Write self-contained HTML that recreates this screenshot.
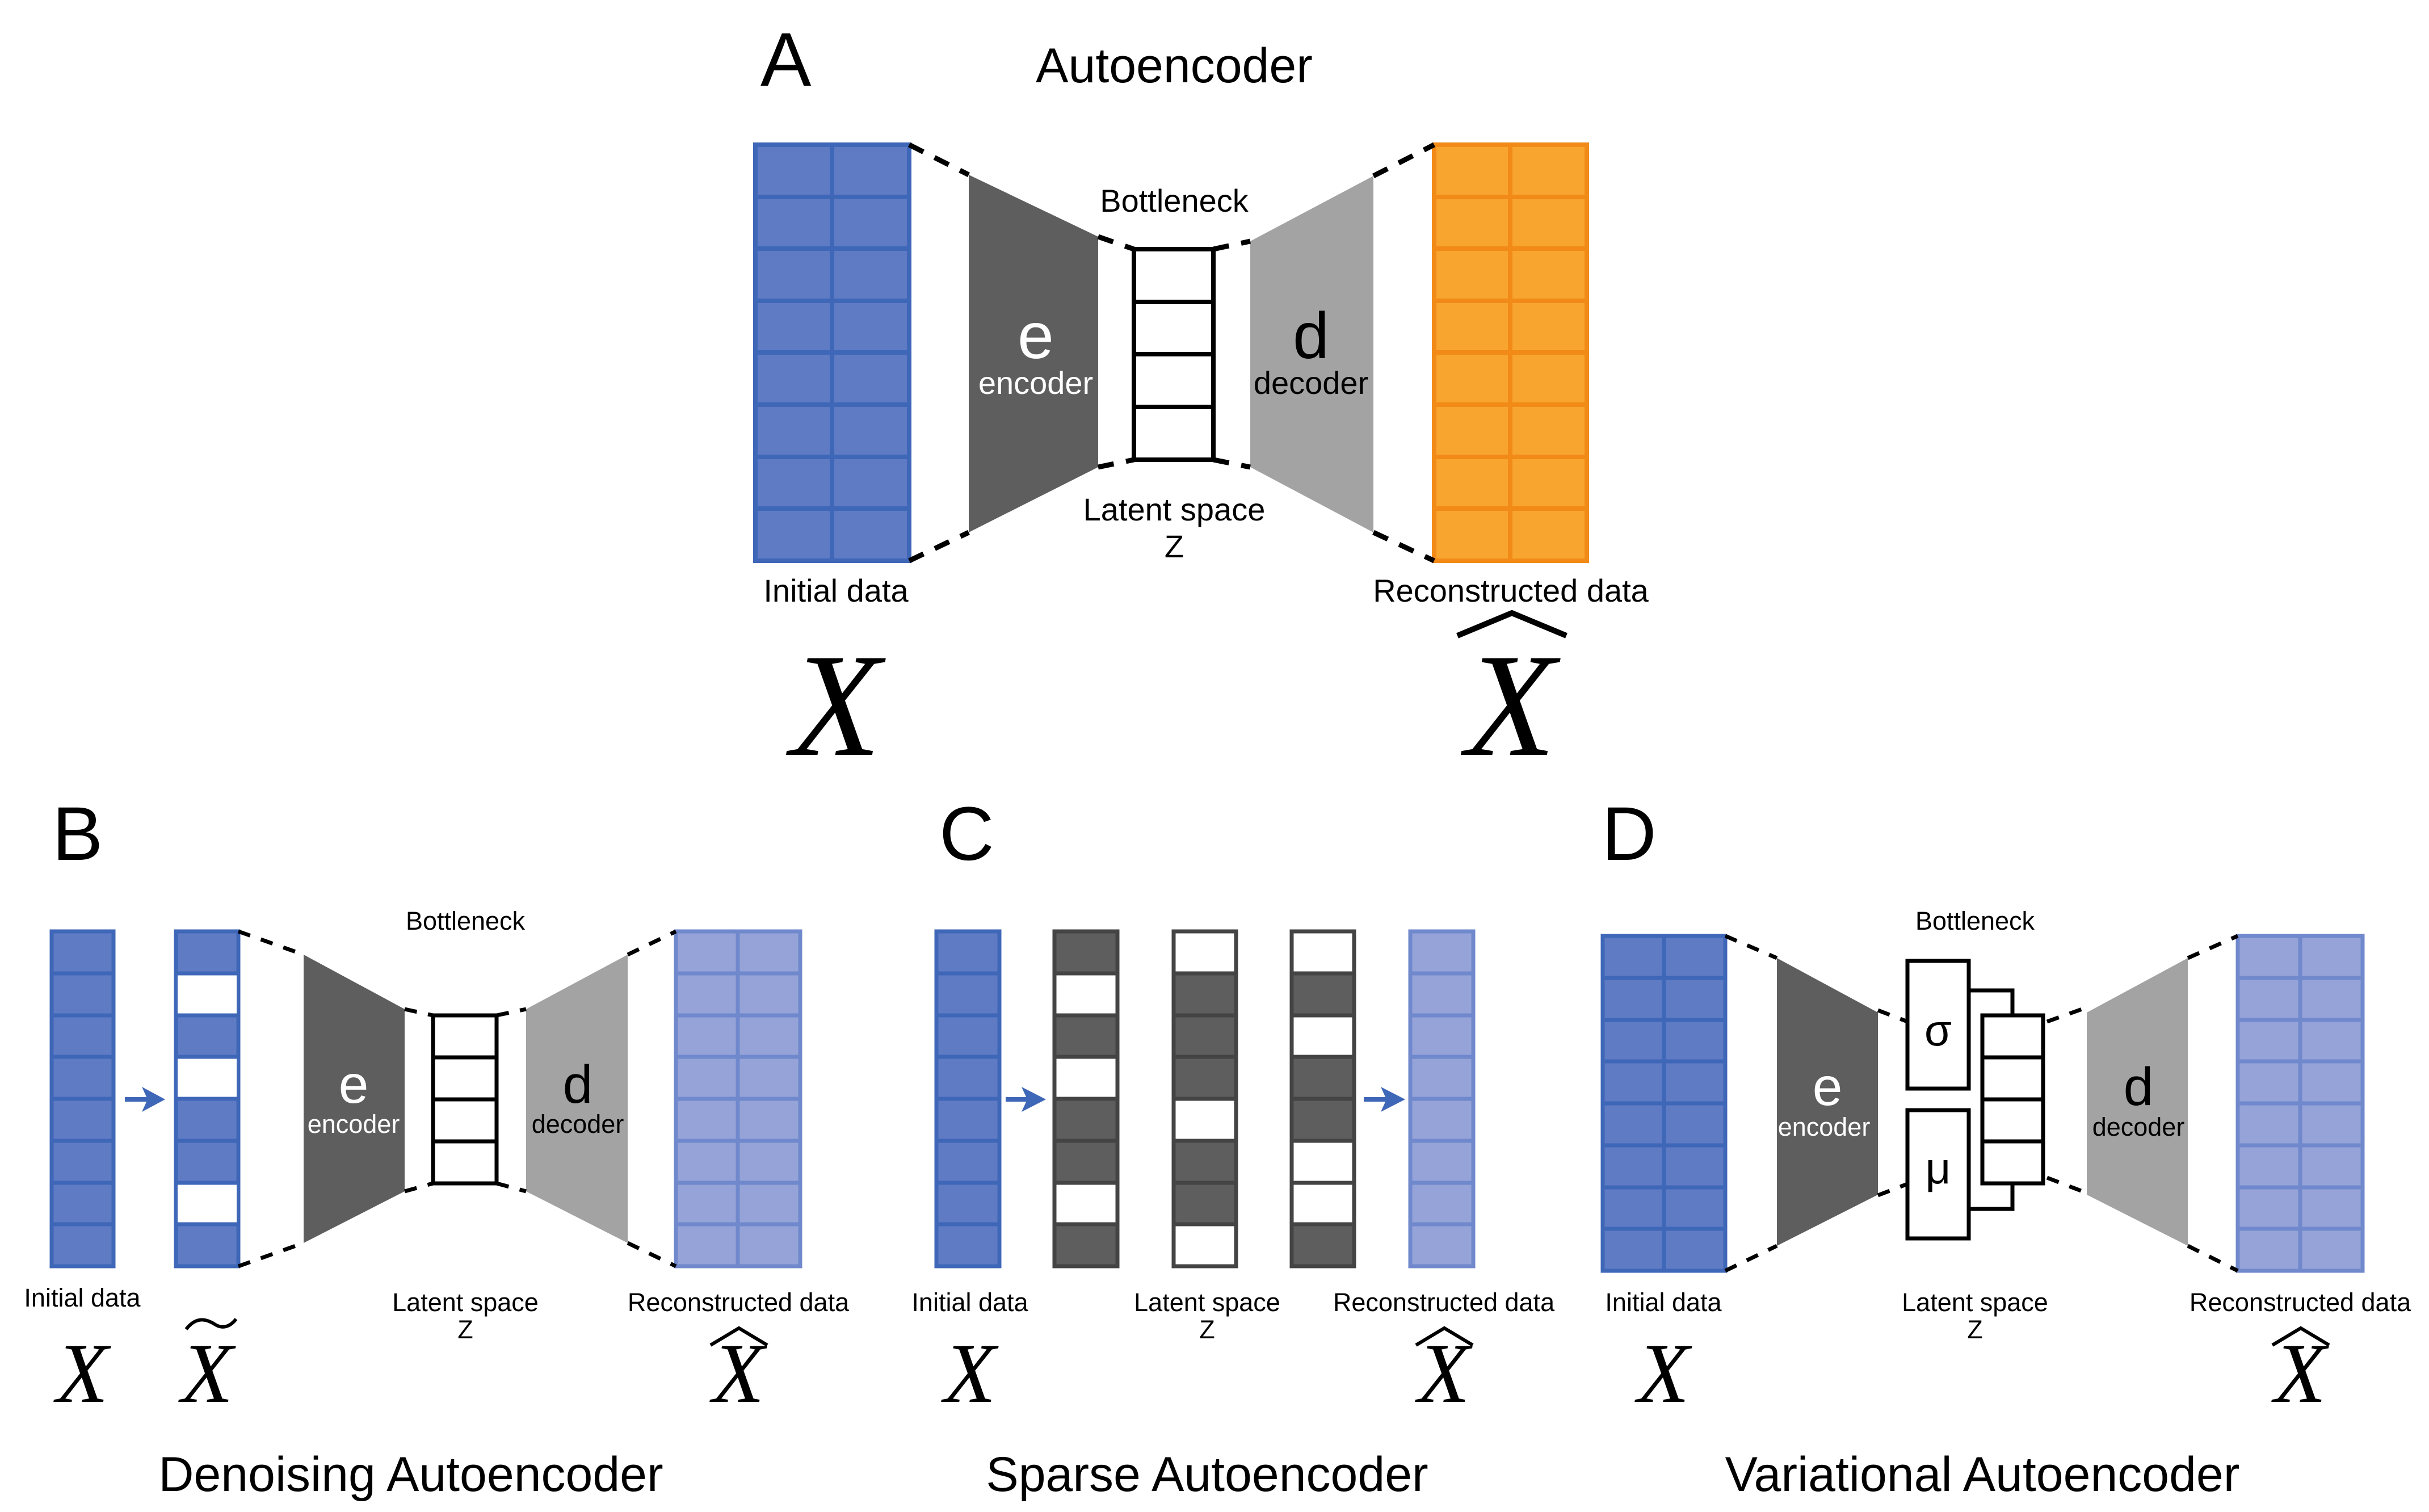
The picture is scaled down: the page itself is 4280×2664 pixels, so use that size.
<!DOCTYPE html>
<html><head><meta charset="utf-8"><style>
html,body{margin:0;padding:0;background:#fff}
svg{display:block}
text{font-family:"Liberation Sans",sans-serif}
.x{font-family:"Liberation Serif",serif;font-style:italic}
</style></head><body>
<svg width="4280" height="2664" viewBox="0 0 4280 2664" xmlns="http://www.w3.org/2000/svg">
<!-- ===== Panel A ===== -->
<text x="1340" y="151" font-size="134">A</text>
<text x="2069" y="145" font-size="86" text-anchor="middle">Autoencoder</text>
<g stroke="#3f67b8" stroke-width="8">
<rect x="1331" y="255" width="271" height="733" fill="#5f7bc4"/>
<line x1="1466" y1="255" x2="1466" y2="988"/>
<line x1="1331" y1="347" x2="1602" y2="347"/><line x1="1331" y1="438" x2="1602" y2="438"/>
<line x1="1331" y1="530" x2="1602" y2="530"/><line x1="1331" y1="621" x2="1602" y2="621"/>
<line x1="1331" y1="713" x2="1602" y2="713"/><line x1="1331" y1="805" x2="1602" y2="805"/>
<line x1="1331" y1="896" x2="1602" y2="896"/>
</g>
<g stroke="#f28a17" stroke-width="8">
<rect x="2527" y="255" width="269" height="733" fill="#f8a530"/>
<line x1="2661" y1="255" x2="2661" y2="988"/>
<line x1="2527" y1="347" x2="2796" y2="347"/><line x1="2527" y1="438" x2="2796" y2="438"/>
<line x1="2527" y1="530" x2="2796" y2="530"/><line x1="2527" y1="621" x2="2796" y2="621"/>
<line x1="2527" y1="713" x2="2796" y2="713"/><line x1="2527" y1="805" x2="2796" y2="805"/>
<line x1="2527" y1="896" x2="2796" y2="896"/>
</g>
<polygon points="1707,308 1935,417 1935,823 1707,938" fill="#5e5e5e"/>
<polygon points="2203,425 2420,310 2420,938 2203,823" fill="#a3a3a3"/>
<g stroke="#000" stroke-width="8" fill="#fff">
<rect x="1998" y="439" width="140" height="371"/>
<line x1="1998" y1="532" x2="2138" y2="532"/><line x1="1998" y1="624" x2="2138" y2="624"/><line x1="1998" y1="717" x2="2138" y2="717"/>
</g>
<g stroke="#000" stroke-width="9" stroke-dasharray="28 22">
<line x1="1602" y1="255" x2="1707" y2="308"/><line x1="1935" y1="417" x2="1998" y2="439"/>
<line x1="1602" y1="988" x2="1707" y2="938"/><line x1="1935" y1="823" x2="1998" y2="810"/>
<line x1="2138" y1="439" x2="2203" y2="425"/><line x1="2420" y1="310" x2="2527" y2="255"/>
<line x1="2138" y1="810" x2="2203" y2="823"/><line x1="2420" y1="938" x2="2527" y2="988"/>
</g>
<text x="1825" y="631" font-size="115" fill="#fff" text-anchor="middle">e</text>
<text x="1825" y="694" font-size="56" fill="#fff" text-anchor="middle">encoder</text>
<text x="2310" y="631" font-size="115" text-anchor="middle">d</text>
<text x="2310" y="694" font-size="56" text-anchor="middle">decoder</text>
<text x="2069" y="373" font-size="56" text-anchor="middle">Bottleneck</text>
<text x="2069" y="917" font-size="56" text-anchor="middle">Latent space</text>
<text x="2069" y="982" font-size="56" text-anchor="middle">Z</text>
<text x="1473" y="1060" font-size="56" text-anchor="middle">Initial data</text>
<text x="2662" y="1060" font-size="56" text-anchor="middle">Reconstructed data</text>
<text class="x" x="1473" y="1330" font-size="260" text-anchor="middle">X</text>
<text class="x" x="2662" y="1330" font-size="260" text-anchor="middle">X</text>
<polyline points="2568,1120 2664,1080 2760,1120" fill="none" stroke="#000" stroke-width="10"/>

<!-- ===== Panel B ===== -->
<text x="92" y="1515" font-size="134">B</text>
<g stroke="#3f67b8" stroke-width="7">
<rect x="91" y="1641" width="109" height="590" fill="#5f7bc4"/>
<line x1="91" y1="1715" x2="200" y2="1715"/><line x1="91" y1="1789" x2="200" y2="1789"/><line x1="91" y1="1862" x2="200" y2="1862"/>
<line x1="91" y1="1936" x2="200" y2="1936"/><line x1="91" y1="2010" x2="200" y2="2010"/><line x1="91" y1="2084" x2="200" y2="2084"/><line x1="91" y1="2157" x2="200" y2="2157"/>
<rect x="310" y="1641" width="110" height="590" fill="#5f7bc4"/>
<rect x="313" y="1715" width="104" height="74" fill="#fff" stroke="none"/>
<rect x="313" y="1862" width="104" height="74" fill="#fff" stroke="none"/>
<rect x="313" y="2084" width="104" height="73" fill="#fff" stroke="none"/>
<line x1="310" y1="1715" x2="420" y2="1715"/><line x1="310" y1="1789" x2="420" y2="1789"/><line x1="310" y1="1862" x2="420" y2="1862"/>
<line x1="310" y1="1936" x2="420" y2="1936"/><line x1="310" y1="2010" x2="420" y2="2010"/><line x1="310" y1="2084" x2="420" y2="2084"/><line x1="310" y1="2157" x2="420" y2="2157"/>
</g>
<g stroke="#7088cc" stroke-width="7">
<rect x="1191" y="1641" width="219" height="590" fill="#95a3d8"/>
<line x1="1300" y1="1641" x2="1300" y2="2231"/>
<line x1="1191" y1="1715" x2="1410" y2="1715"/><line x1="1191" y1="1789" x2="1410" y2="1789"/><line x1="1191" y1="1862" x2="1410" y2="1862"/>
<line x1="1191" y1="1936" x2="1410" y2="1936"/><line x1="1191" y1="2010" x2="1410" y2="2010"/><line x1="1191" y1="2084" x2="1410" y2="2084"/><line x1="1191" y1="2157" x2="1410" y2="2157"/>
</g>
<line x1="220" y1="1937" x2="270" y2="1937" stroke="#3f67b8" stroke-width="8"/>
<polygon points="250,1915 291,1937 250,1959 260,1937" fill="#3f67b8"/>
<polygon points="535,1682 713,1778 713,2099 535,2190" fill="#5e5e5e"/>
<polygon points="927,1778 1106,1682 1106,2190 927,2099" fill="#a3a3a3"/>
<g stroke="#000" stroke-width="7" fill="#fff">
<rect x="763" y="1789" width="112" height="296"/>
<line x1="763" y1="1863" x2="875" y2="1863"/><line x1="763" y1="1937" x2="875" y2="1937"/><line x1="763" y1="2011" x2="875" y2="2011"/>
</g>
<g stroke="#000" stroke-width="7" stroke-dasharray="22 20">
<line x1="420" y1="1641" x2="535" y2="1682"/><line x1="713" y1="1778" x2="763" y2="1789"/>
<line x1="420" y1="2231" x2="535" y2="2190"/><line x1="713" y1="2099" x2="763" y2="2085"/>
<line x1="875" y1="1789" x2="927" y2="1778"/><line x1="1106" y1="1682" x2="1191" y2="1641"/>
<line x1="875" y1="2085" x2="927" y2="2099"/><line x1="1106" y1="2190" x2="1191" y2="2231"/>
</g>
<text x="623" y="1943" font-size="95" fill="#fff" text-anchor="middle">e</text>
<text x="623" y="1996" font-size="45" fill="#fff" text-anchor="middle">encoder</text>
<text x="1018" y="1943" font-size="95" text-anchor="middle">d</text>
<text x="1018" y="1996" font-size="45" text-anchor="middle">decoder</text>
<text x="820" y="1638" font-size="45" text-anchor="middle">Bottleneck</text>
<text x="145" y="2302" font-size="45" text-anchor="middle">Initial data</text>
<text x="820" y="2310" font-size="45" text-anchor="middle">Latent space</text>
<text x="820" y="2358" font-size="45" text-anchor="middle">Z</text>
<text x="1301" y="2310" font-size="45" text-anchor="middle">Reconstructed data</text>
<text class="x" x="145" y="2470" font-size="150" text-anchor="middle">X</text>
<text class="x" x="365" y="2470" font-size="150" text-anchor="middle">X</text>
<path d="M328,2342 C345,2320 362,2323 378,2333 C392,2342 405,2338 416,2324" fill="none" stroke="#000" stroke-width="6"/>
<text class="x" x="1301" y="2470" font-size="150" text-anchor="middle">X</text>
<polyline points="1252,2370 1302,2340 1352,2370" fill="none" stroke="#000" stroke-width="6"/>
<text x="724" y="2627" font-size="86" text-anchor="middle">Denoising Autoencoder</text>

<!-- ===== Panel C ===== -->
<text x="1655" y="1515" font-size="134">C</text>
<g stroke="#3f67b8" stroke-width="7">
<rect x="1650" y="1641" width="111" height="590" fill="#5f7bc4"/>
<line x1="1650" y1="1715" x2="1761" y2="1715"/><line x1="1650" y1="1789" x2="1761" y2="1789"/><line x1="1650" y1="1862" x2="1761" y2="1862"/>
<line x1="1650" y1="1936" x2="1761" y2="1936"/><line x1="1650" y1="2010" x2="1761" y2="2010"/><line x1="1650" y1="2084" x2="1761" y2="2084"/><line x1="1650" y1="2157" x2="1761" y2="2157"/>
</g>
<g stroke="#444" stroke-width="7">
<rect x="1858" y="1641" width="111" height="590" fill="#5e5e5e"/>
<rect x="1858" y="1715" width="111" height="74" fill="#fff"/>
<rect x="1858" y="1862" width="111" height="74" fill="#fff"/>
<rect x="1858" y="2084" width="111" height="73" fill="#fff"/>
<line x1="1858" y1="2010" x2="1969" y2="2010"/>
<rect x="2068" y="1641" width="110" height="590" fill="#5e5e5e"/>
<rect x="2068" y="1641" width="110" height="74" fill="#fff"/>
<rect x="2068" y="1936" width="110" height="74" fill="#fff"/>
<rect x="2068" y="2157" width="110" height="74" fill="#fff"/>
<line x1="2068" y1="1789" x2="2178" y2="1789"/><line x1="2068" y1="1862" x2="2178" y2="1862"/><line x1="2068" y1="2084" x2="2178" y2="2084"/>
<rect x="2276" y="1641" width="110" height="590" fill="#5e5e5e"/>
<rect x="2276" y="1641" width="110" height="74" fill="#fff"/>
<rect x="2276" y="1789" width="110" height="73" fill="#fff"/>
<rect x="2276" y="2010" width="110" height="74" fill="#fff"/>
<rect x="2276" y="2084" width="110" height="73" fill="#fff"/>
<line x1="2276" y1="1936" x2="2386" y2="1936"/>
</g>
<g stroke="#7088cc" stroke-width="7">
<rect x="2485" y="1641" width="111" height="590" fill="#95a3d8"/>
<line x1="2485" y1="1715" x2="2596" y2="1715"/><line x1="2485" y1="1789" x2="2596" y2="1789"/><line x1="2485" y1="1862" x2="2596" y2="1862"/>
<line x1="2485" y1="1936" x2="2596" y2="1936"/><line x1="2485" y1="2010" x2="2596" y2="2010"/><line x1="2485" y1="2084" x2="2596" y2="2084"/><line x1="2485" y1="2157" x2="2596" y2="2157"/>
</g>
<line x1="1772" y1="1937" x2="1820" y2="1937" stroke="#3f67b8" stroke-width="8"/>
<polygon points="1800,1915 1843,1937 1800,1959 1810,1937" fill="#3f67b8"/>
<line x1="2403" y1="1937" x2="2452" y2="1937" stroke="#3f67b8" stroke-width="8"/>
<polygon points="2433,1915 2476,1937 2433,1959 2443,1937" fill="#3f67b8"/>
<text x="1709" y="2310" font-size="45" text-anchor="middle">Initial data</text>
<text x="2127" y="2310" font-size="45" text-anchor="middle">Latent space</text>
<text x="2127" y="2358" font-size="45" text-anchor="middle">Z</text>
<text x="2544" y="2310" font-size="45" text-anchor="middle">Reconstructed data</text>
<text class="x" x="1709" y="2470" font-size="150" text-anchor="middle">X</text>
<text class="x" x="2544" y="2470" font-size="150" text-anchor="middle">X</text>
<polyline points="2495,2370 2545,2340 2595,2370" fill="none" stroke="#000" stroke-width="6"/>
<text x="2127" y="2627" font-size="86" text-anchor="middle">Sparse Autoencoder</text>

<!-- ===== Panel D ===== -->
<text x="2822" y="1515" font-size="134">D</text>
<g stroke="#3f67b8" stroke-width="7">
<rect x="2824" y="1649" width="216" height="590" fill="#5f7bc4"/>
<line x1="2932" y1="1649" x2="2932" y2="2239"/>
<line x1="2824" y1="1723" x2="3040" y2="1723"/><line x1="2824" y1="1797" x2="3040" y2="1797"/><line x1="2824" y1="1870" x2="3040" y2="1870"/>
<line x1="2824" y1="1944" x2="3040" y2="1944"/><line x1="2824" y1="2018" x2="3040" y2="2018"/><line x1="2824" y1="2092" x2="3040" y2="2092"/><line x1="2824" y1="2165" x2="3040" y2="2165"/>
</g>
<g stroke="#7088cc" stroke-width="7">
<rect x="3943" y="1649" width="220" height="590" fill="#95a3d8"/>
<line x1="4053" y1="1649" x2="4053" y2="2239"/>
<line x1="3943" y1="1723" x2="4163" y2="1723"/><line x1="3943" y1="1797" x2="4163" y2="1797"/><line x1="3943" y1="1870" x2="4163" y2="1870"/>
<line x1="3943" y1="1944" x2="4163" y2="1944"/><line x1="3943" y1="2018" x2="4163" y2="2018"/><line x1="3943" y1="2092" x2="4163" y2="2092"/><line x1="3943" y1="2165" x2="4163" y2="2165"/>
</g>
<polygon points="3131,1688 3309,1784 3309,2105 3131,2195" fill="#5e5e5e"/>
<polygon points="3677,1784 3855,1688 3855,2195 3677,2105" fill="#a3a3a3"/>
<g stroke="#000" stroke-width="7" fill="none">
<polyline points="3469,1745 3546,1745 3546,1789"/>
<polyline points="3469,2130 3546,2130 3546,2085"/>
</g>
<g stroke="#000" stroke-width="7" fill="#fff">
<rect x="3361" y="1693" width="108" height="225"/>
<rect x="3361" y="1956" width="108" height="226"/>
<rect x="3493" y="1789" width="107" height="296"/>
<line x1="3493" y1="1863" x2="3600" y2="1863"/><line x1="3493" y1="1937" x2="3600" y2="1937"/><line x1="3493" y1="2011" x2="3600" y2="2011"/>
</g>
<g stroke="#000" stroke-width="7" stroke-dasharray="22 20">
<line x1="3040" y1="1649" x2="3131" y2="1688"/><line x1="3040" y1="2239" x2="3131" y2="2195"/>
<line x1="3855" y1="1688" x2="3943" y2="1649"/><line x1="3855" y1="2195" x2="3943" y2="2239"/>
<line x1="3309" y1="1780" x2="3361" y2="1800"/><line x1="3309" y1="2106" x2="3361" y2="2086"/>
<line x1="3607" y1="1800" x2="3677" y2="1775"/><line x1="3607" y1="2075" x2="3677" y2="2102"/>
</g>
<text x="3415" y="1842" font-size="78" text-anchor="middle">σ</text>
<text x="3415" y="2085" font-size="78" text-anchor="middle">μ</text>
<text x="3220" y="1947" font-size="95" fill="#fff" text-anchor="middle">e</text>
<text x="3214" y="2001" font-size="45" fill="#fff" text-anchor="middle">encoder</text>
<text x="3768" y="1947" font-size="95" text-anchor="middle">d</text>
<text x="3768" y="2001" font-size="45" text-anchor="middle">decoder</text>
<text x="3480" y="1638" font-size="45" text-anchor="middle">Bottleneck</text>
<text x="2931" y="2310" font-size="45" text-anchor="middle">Initial data</text>
<text x="3480" y="2310" font-size="45" text-anchor="middle">Latent space</text>
<text x="3480" y="2358" font-size="45" text-anchor="middle">Z</text>
<text x="4053" y="2310" font-size="45" text-anchor="middle">Reconstructed data</text>
<text class="x" x="2931" y="2470" font-size="150" text-anchor="middle">X</text>
<text class="x" x="4053" y="2470" font-size="150" text-anchor="middle">X</text>
<polyline points="4004,2370 4054,2340 4104,2370" fill="none" stroke="#000" stroke-width="6"/>
<text x="3493" y="2627" font-size="86" text-anchor="middle">Variational Autoencoder</text>
</svg>
</body></html>
